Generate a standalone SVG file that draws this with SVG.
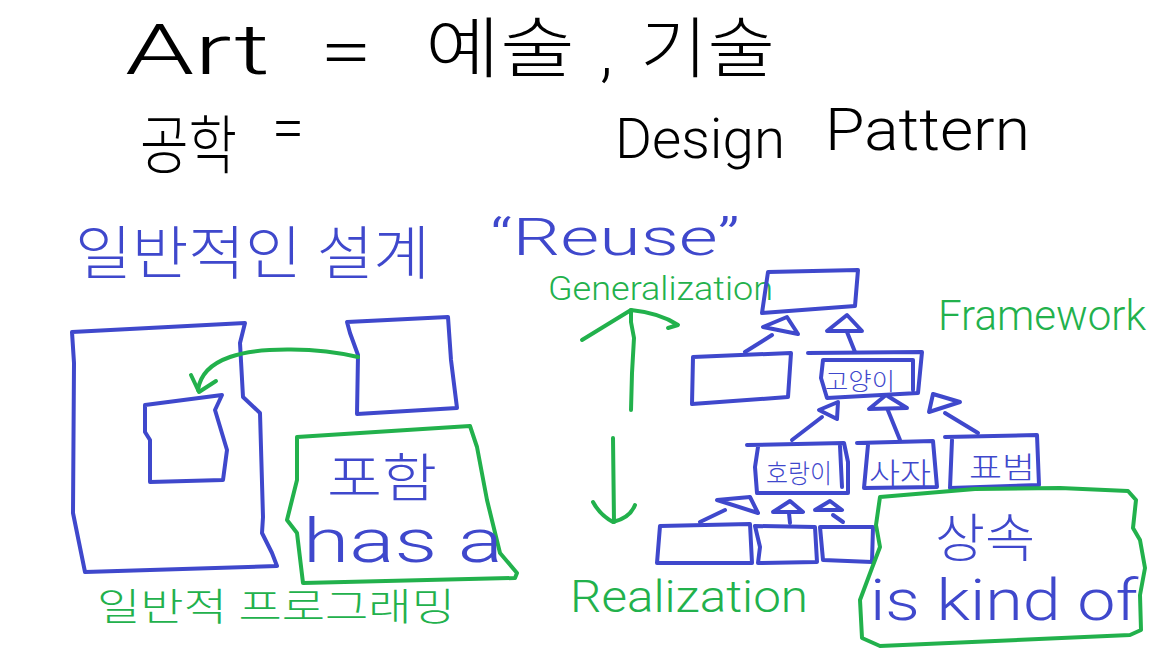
<svg xmlns="http://www.w3.org/2000/svg" width="1152" height="648" viewBox="0 0 1152 648">
<style>
  .b { fill: none; stroke: #3F48CC; stroke-width: 4; stroke-linejoin: round; stroke-linecap: round; }
  .g { fill: none; stroke: #22B14C; stroke-width: 4; stroke-linejoin: round; stroke-linecap: round; }
  .tri { fill: #ffffff; stroke: #3F48CC; stroke-width: 4; stroke-linejoin: round; }
  text { font-family: "Roboto", "Noto Sans CJK KR", sans-serif; font-weight: 300; }
  .tk { fill: #000000; }
  .tb { fill: #3F48CC; }
  .tg { fill: #22B14C; }
</style>
<rect width="1152" height="648" fill="#ffffff"/>

<g id="title">
  <text class="tk" x="125" y="74" font-size="70" textLength="145" lengthAdjust="spacingAndGlyphs">Art</text>
  <text class="tk" x="320" y="75" font-size="66" textLength="52" lengthAdjust="spacingAndGlyphs">=</text>
  <text class="tk" x="425" y="72" font-size="66" textLength="150" lengthAdjust="spacingAndGlyphs">예술</text>
  <text class="tk" x="600" y="74" font-size="66">,</text>
  <text class="tk" x="640" y="72" font-size="66" textLength="135" lengthAdjust="spacingAndGlyphs">기술</text>
  <text class="tk" x="140" y="168" font-size="64" textLength="97" lengthAdjust="spacingAndGlyphs">공학</text>
  <text class="tk" x="272" y="148" font-size="60" textLength="32" lengthAdjust="spacingAndGlyphs">=</text>
  <text class="tk" x="615" y="158" font-size="56" textLength="170" lengthAdjust="spacingAndGlyphs">Design</text>
  <text class="tk" x="825" y="150" font-size="60" textLength="205" lengthAdjust="spacingAndGlyphs">Pattern</text>
</g>

<g id="labels">
  <text class="tb" x="75" y="274" font-size="58" textLength="355" lengthAdjust="spacingAndGlyphs">일반적인 설계</text>
  <text class="tb" x="490" y="255" font-size="52" textLength="250" lengthAdjust="spacingAndGlyphs">“Reuse”</text>
  <text class="tg" x="548" y="300" font-size="34" textLength="225" lengthAdjust="spacingAndGlyphs">Generalization</text>
  <text class="tg" x="938" y="330" font-size="42" textLength="208" lengthAdjust="spacingAndGlyphs">Framework</text>
  <text class="tg" x="570" y="612" font-size="44" textLength="238" lengthAdjust="spacingAndGlyphs">Realization</text>
  <text class="tg" x="97" y="620" font-size="38" textLength="358" lengthAdjust="spacingAndGlyphs">일반적 프로그래밍</text>
</g>

<g id="program-box">
  <path class="b" d="M72,332 L245,323 L240,343 L243,397 L260,413 L263,517 L262,533 L272,553 L277,566 L85,572 L73,513 L74,363 Z"/>
</g>
<g id="inner-part">
  <path class="b" d="M145,405 L222,395 L215,410 L227,450 L223,480 L150,482 L150,440 L145,432 Z"/>
</g>
<g id="part">
  <path class="b" d="M347,322 L448,317 L451,360 L457,408 L357,414 L358,355 L350,333 Z"/>
</g>
<g id="has-a-note">
  <path class="g" d="M297,437 L470,426 L477,447 L487,500 L500,553 L517,573 L515,578 L303,583 L297,533 L287,520 L297,480 Z"/>
  <text class="tb" x="327" y="497" font-size="52" textLength="110" lengthAdjust="spacingAndGlyphs">포함</text>
  <text class="tb" x="303" y="562" font-size="62" textLength="200" lengthAdjust="spacingAndGlyphs">has a</text>
</g>

<g id="top-class">
  <path class="b" d="M768,272 L858,270 L855,306 L762,313 Z"/>
</g>
<g id="class-left">
  <path class="b" d="M693,357 L791,353 L788,397 L692,404 Z"/>
</g>
<g id="class-cat">
  <path class="b" d="M808,353 L922,352 L918,393 L827,398 L821,378 L823,360 L913,360 L913,390"/>
  <text class="tb" x="860" y="390" font-size="24" text-anchor="middle" textLength="70" lengthAdjust="spacingAndGlyphs">고양이</text>
</g>
<g id="class-tiger">
  <path class="b" d="M747,445 L844,443 L848,462 L848,493 L757,493 L755,467 L758,447"/>
  <path class="b" d="M840,446 L842,487"/>
  <text class="tb" x="799" y="483" font-size="26" text-anchor="middle" textLength="66" lengthAdjust="spacingAndGlyphs">호랑이</text>
</g>
<g id="class-lion">
  <path class="b" d="M857,443 L933,441 L937,487 L864,488 L868,445"/>
  <text class="tb" x="900" y="484" font-size="30" text-anchor="middle" textLength="62" lengthAdjust="spacingAndGlyphs">사자</text>
</g>
<g id="class-leopard">
  <path class="b" d="M945,437 L1037,435 L1039,485 L950,488 L952,440"/>
  <text class="tb" x="1002" y="478" font-size="30" text-anchor="middle" textLength="66" lengthAdjust="spacingAndGlyphs">표범</text>
</g>
<g id="sub-1">
  <path class="b" d="M660,526 L750,524 L752,563 L657,563 Z"/>
</g>
<g id="sub-2">
  <path class="b" d="M755,526 L815,527 L817,562 L758,563 L760,547 Z"/>
</g>
<g id="sub-3">
  <path class="b" d="M820,527 L873,527 L872,562 L823,560 Z"/>
</g>
<g id="inheritance-note">
  <path class="g" d="M880,497 L975,489 L1060,488 L1128,491 L1136,500 L1133,528 L1140,540 L1145,568 L1140,595 L1141,630 L1130,635 L880,646 L862,638 L860,600 L872,568 L880,547 L876,525 Z"/>
  <text class="tb" x="935" y="557" font-size="52" textLength="100" lengthAdjust="spacingAndGlyphs">상속</text>
  <text class="tb" x="870" y="620" font-size="58" textLength="268" lengthAdjust="spacingAndGlyphs">is kind of</text>
</g>

<g id="connectors">
  <path class="b" d="M745,352 L772,335"/>
  <polygon class="tri" points="787,317 763,327 798,334"/>
  <path class="b" d="M855,352 L847,332"/>
  <polygon class="tri" points="847,315 827,331 862,331"/>
  <path class="b" d="M792,440 L822,417"/>
  <polygon class="tri" points="838,402 819,410 837,419"/>
  <path class="b" d="M900,440 L887,408"/>
  <polygon class="tri" points="886,395 869,409 907,408"/>
  <path class="b" d="M978,433 L945,413"/>
  <polygon class="tri" points="933,394 929,412 960,402"/>
  <path class="b" d="M700,522 L725,510"/>
  <polygon class="tri" points="717,500 750,497 758,513"/>
  <path class="b" d="M789,513 L790,523"/>
  <polygon class="tri" points="773,512 790,501 803,512"/>
  <path class="b" d="M833,515 L843,522"/>
  <polygon class="tri" points="815,510 830,501 842,510"/>
  <path class="g" d="M358,357 C320,348 260,346 230,357 C210,364 200,375 198,390"/>
  <path class="g" d="M191,375 L199,392 L216,381"/>
  <path class="g" d="M631,410 L632,373 L634,338 L631,322 L631,310"/>
  <path class="g" d="M582,340 L631,310 Q660,313 678,325 L668,328"/>
  <path class="g" d="M613,438 L614,522"/>
  <path class="g" d="M593,502 Q600,515 613,522 Q630,518 635,505"/>
</g>
</svg>
